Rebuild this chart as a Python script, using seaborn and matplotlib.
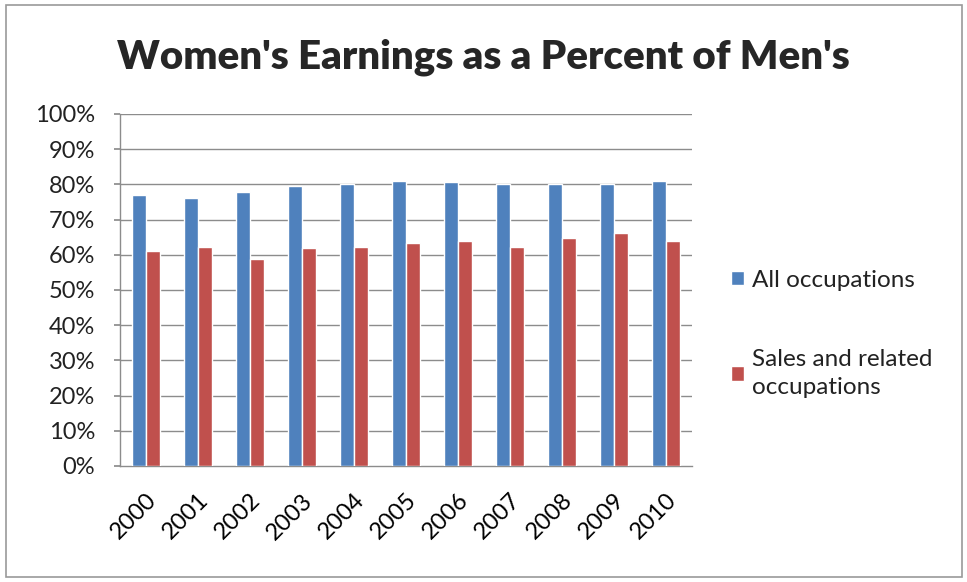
import seaborn as sns
import matplotlib.pyplot as plt
import pandas as pd
from matplotlib.patches import Rectangle
from matplotlib.ticker import FuncFormatter

years = ["2000", "2001", "2002", "2003", "2004", "2005",
         "2006", "2007", "2008", "2009", "2010"]
all_occupations = [77.0, 76.1, 77.8, 79.5, 80.1, 81.0, 80.8, 80.1, 80.1, 80.2, 81.0]
sales_related = [61.0, 62.1, 58.8, 61.8, 62.1, 63.3, 64.0, 62.1, 64.7, 66.2, 64.0]
series_names = ["All occupations", "Sales and related\noccupations"]
yticks = [0, 10, 20, 30, 40, 50, 60, 70, 80, 90, 100]

df = pd.DataFrame({"year": years,
                   series_names[0]: all_occupations,
                   series_names[1]: sales_related})
df = df.melt(id_vars="year", var_name="series", value_name="value")

sns.set_theme(style="white")
plt.rcParams["font.family"] = ["Lato", "DejaVu Sans"]

fig = plt.figure(figsize=(9.67, 5.82), dpi=100)
ax = fig.add_axes([120 / 967, 116 / 582, 572 / 967, 352 / 582])

palette = ["#4F81BD", "#C0504D"]
sns.barplot(data=df, x="year", y="value", hue="series", palette=palette,
            width=0.54, saturation=1, ax=ax, zorder=3)

ax.set_ylim(0, 100)
ax.set_xlim(-0.5, len(years) - 0.5)
ax.set_yticks(yticks)
ax.yaxis.set_major_formatter(FuncFormatter(lambda v, p: f"{v:.0f}%"))
ax.set_xlabel("")
ax.set_ylabel("")
for y in yticks[1:]:
    ax.axhline(y, color="#8C8C8C", linewidth=1, zorder=0)

for s in ["top", "right"]:
    ax.spines[s].set_visible(False)
for s in ["left", "bottom"]:
    ax.spines[s].set_color("#8C8C8C")
    ax.spines[s].set_linewidth(1)

ax.tick_params(axis="y", which="both", left=True, length=4, color="#8C8C8C",
               pad=14, labelsize=17, labelcolor="#222222")
ax.tick_params(axis="x", bottom=False, pad=11, labelsize=17, labelcolor="black")
for lab in ax.get_xticklabels():
    lab.set_rotation(45)
    lab.set_ha("right")
    lab.set_rotation_mode("anchor")

leg = ax.legend(loc="center left", bbox_to_anchor=(1.03, 0.375), frameon=False,
                fontsize=17.5, handlelength=0.55, handleheight=0.55,
                handletextpad=0.3, labelspacing=2.4, title=None)
for t in leg.get_texts():
    t.set_color("#222222")
    t.set_linespacing(1.45)

fig.suptitle("Women's Earnings as a Percent of Men's", x=0.5, y=1 - 57 / 582,
             va="center", fontsize=29, fontweight="heavy")

fig.patches.append(Rectangle((6 / 967, 5 / 582), 956 / 967, 572 / 582,
                             transform=fig.transFigure, fill=False,
                             edgecolor="#9a9a9a", linewidth=1.2))

fig.savefig("out.png", dpi=100)
